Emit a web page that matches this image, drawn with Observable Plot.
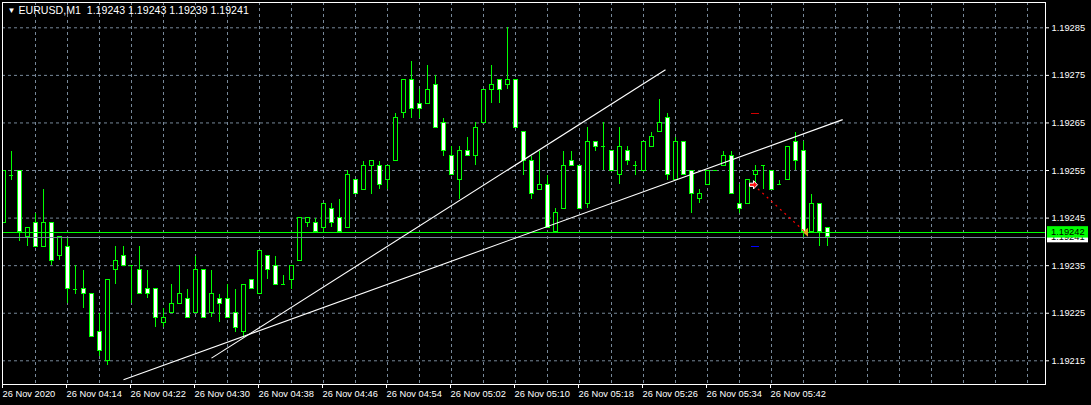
<!DOCTYPE html>
<html><head><meta charset="utf-8">
<script src="https://cdn.jsdelivr.net/npm/d3@7"></script>
<script src="https://cdn.jsdelivr.net/npm/@observablehq/plot@0.6"></script>
<style>
html,body{margin:0;padding:0;background:#000;overflow:hidden;}
svg text{white-space:pre;}
</style></head><body><div id="chart"></div>
<script>
// ---- data ----
const symbolTitle = "EURUSD,M1";
const lastOHLC = ["1.19243", "1.19243", "1.19239", "1.19241"];
const timeLabels = ["26 Nov 2020","26 Nov 04:14","26 Nov 04:22","26 Nov 04:30","26 Nov 04:38","26 Nov 04:46","26 Nov 04:54","26 Nov 05:02","26 Nov 05:10","26 Nov 05:18","26 Nov 05:26","26 Nov 05:34","26 Nov 05:42"];
const timeLabelBars = [0, 8, 16, 24, 32, 40, 48, 56, 64, 72, 80, 88, 96];
const gridBars = [4,8,12,16,20,24,28,32,36,40,44,48,52,56,60,64,68,72,76,80,84,88,92,96,100,104,108,112,116,120,124,128];
const priceTicks = [1.19215, 1.19225, 1.19235, 1.19245, 1.19255, 1.19265, 1.19275, 1.19285];

const openP = [
1.19244,1.19254,1.19255,1.19241,1.19244,1.19239,1.19244,1.19237,1.19239,1.19230,
1.19230,1.19229,1.19221,1.19215,1.19234,1.19237,1.19235,1.19234,1.19230,1.19230,
1.19223,1.19225,1.19227,1.19228,1.19225,1.19234,1.19225,1.19228,1.19228,1.19225,
1.19221,1.19232,1.19229,1.19237,1.19235,1.19231,1.19232,1.19236,1.19244,1.19244,
1.19243,1.19247,1.19245,1.19243,1.19253,1.19251,1.19256,1.19256,1.19253,1.19257,
1.19267,1.19274,1.19269,1.19269,1.19273,1.19265,1.19258,1.19253,1.19259,1.19258,
1.19265,1.19272,1.19274,1.19273,1.19274,1.19263,1.19257,1.19251,1.19252,1.19242,
1.19247,1.19257,1.19256,1.19248,1.19261,1.19260,1.19259,1.19254,1.19259,1.19256,
1.19255,1.19260,1.19263,1.19266,1.19253,1.19261,1.19255,1.19249,1.19252,1.19255,
1.19256,1.19258,1.19248,1.19248,1.19254,1.19256,1.19255,1.19252,1.19253,1.19261,
1.19259,1.19242,1.19248,1.19243];
const highP = [
1.19255,1.19259,1.19255,1.19243,1.19246,1.19251,1.19244,1.19241,1.19241,1.19235,
1.19234,1.19229,1.19225,1.19232,1.19239,1.19239,1.19235,1.19239,1.19234,1.19230,
1.19226,1.19231,1.19235,1.19230,1.19237,1.19234,1.19234,1.19229,1.19231,1.19230,
1.19231,1.19232,1.19238,1.19237,1.19237,1.19233,1.19235,1.19245,1.19245,1.19245,
1.19248,1.19248,1.19249,1.19255,1.19253,1.19257,1.19257,1.19257,1.19256,1.19267,
1.19274,1.19278,1.19272,1.19277,1.19275,1.19266,1.19260,1.19260,1.19262,1.19265,
1.19272,1.19277,1.19274,1.19285,1.19274,1.19263,1.19258,1.19259,1.19254,1.19247,
1.19259,1.19259,1.19256,1.19264,1.19261,1.19265,1.19259,1.19264,1.19260,1.19257,
1.19261,1.19263,1.19270,1.19267,1.19262,1.19261,1.19255,1.19251,1.19255,1.19255,
1.19259,1.19259,1.19252,1.19253,1.19256,1.19256,1.19255,1.19253,1.19260,1.19263,
1.19261,1.19250,1.19248,1.19243];
const lowP = [
1.19244,1.19253,1.19240,1.19239,1.19239,1.19239,1.19235,1.19236,1.19227,1.19229,
1.19226,1.19220,1.19216,1.19214,1.19231,1.19235,1.19227,1.19229,1.19228,1.19222,
1.19222,1.19225,1.19227,1.19224,1.19225,1.19224,1.19224,1.19223,1.19224,1.19221,
1.19220,1.19230,1.19229,1.19232,1.19231,1.19231,1.19230,1.19236,1.19243,1.19242,
1.19242,1.19243,1.19242,1.19243,1.19250,1.19251,1.19250,1.19251,1.19251,1.19257,
1.19266,1.19266,1.19266,1.19269,1.19264,1.19258,1.19254,1.19249,1.19258,1.19256,
1.19265,1.19269,1.19269,1.19272,1.19264,1.19254,1.19249,1.19251,1.19243,1.19242,
1.19247,1.19256,1.19247,1.19247,1.19259,1.19255,1.19255,1.19252,1.19256,1.19254,
1.19255,1.19260,1.19263,1.19253,1.19253,1.19254,1.19246,1.19248,1.19252,1.19255,
1.19256,1.19250,1.19246,1.19248,1.19252,1.19251,1.19251,1.19252,1.19253,1.19255,
1.19241,1.19242,1.19239,1.19239];
const closeP = [
1.19255,1.19254,1.19242,1.19243,1.19239,1.19244,1.19236,1.19241,1.19230,1.19230,
1.19229,1.19220,1.19217,1.19232,1.19236,1.19235,1.19235,1.19229,1.19229,1.19224,
1.19224,1.19227,1.19229,1.19224,1.19234,1.19224,1.19229,1.19227,1.19224,1.19222,
1.19231,1.19230,1.19238,1.19234,1.19231,1.19231,1.19235,1.19245,1.19245,1.19242,
1.19248,1.19244,1.19242,1.19254,1.19250,1.19256,1.19257,1.19252,1.19256,1.19266,
1.19274,1.19268,1.19268,1.19272,1.19264,1.19259,1.19254,1.19259,1.19258,1.19264,
1.19272,1.19273,1.19272,1.19274,1.19264,1.19257,1.19250,1.19252,1.19243,1.19246,
1.19256,1.19256,1.19247,1.19261,1.19260,1.19260,1.19255,1.19260,1.19257,1.19256,
1.19261,1.19262,1.19265,1.19254,1.19261,1.19254,1.19250,1.19250,1.19255,1.19255,
1.19258,1.19250,1.19247,1.19253,1.19255,1.19256,1.19251,1.19252,1.19260,1.19257,
1.19242,1.19248,1.19242,1.19241];

const askPrice = 1.19242;
const bidPrice = 1.19241;

// trend lines (bar index, price) anchors
const trendStartBars = [26.0, 15.0];
const trendStartPrices = [1.1921557, 1.1921100];
const trendEndBars = [82.75, 104.9];
const trendEndPrices = [1.1927620, 1.1926570];

// trade history
const tradeBars = [93.75, 100.25];
const tradePrices = [1.19252, 1.19242];
const levelBar = 94;
const levelPrices = [1.19267, 1.19239];
const levelColors = ["#d00000", "#0000ff"];

// ---- drawing ----
const idx = openP.map((_, i) => i);
const bodies = idx.filter(i => openP[i] !== closeP[i]);
const dojis = idx.filter(i => openP[i] === closeP[i]);
const trends = trendStartBars.map((_, i) => i);

const rightArrow = {draw(ctx) {
  ctx.moveTo(-4, -1.6); ctx.lineTo(0, -1.6); ctx.lineTo(0, -4.2); ctx.lineTo(4, 0);
  ctx.lineTo(0, 4.2); ctx.lineTo(0, 1.6); ctx.lineTo(-4, 1.6); ctx.closePath();
}};
const leftTri = {draw(ctx) {
  ctx.moveTo(2.5, -4.5); ctx.lineTo(-2.5, 0); ctx.lineTo(2.5, 4.5); ctx.closePath();
}};

const LIME = "#00ff00";
const GRID = "#778899";
const FONT = "'Liberation Sans', Arial, sans-serif";

const chart = Plot.plot({
  width: 1091, height: 405,
  marginLeft: 2, marginRight: 46, marginTop: 2, marginBottom: 21,
  x: {type: "linear", domain: [-0.125, 130.25]},
  y: {type: "linear", domain: [1.1921002, 1.1929032]},
  style: {background: "#000", color: "white", fontFamily: FONT, fontSize: "9.3px"},
  marks: [
    Plot.gridY(priceTicks, {stroke: GRID, strokeOpacity: 1, strokeDasharray: "3,3"}),
    Plot.gridX(gridBars, {stroke: GRID, strokeOpacity: 1, strokeDasharray: "3,3"}),
    Plot.ruleX(idx, {x: i => i, y1: i => lowP[i], y2: i => highP[i], stroke: LIME, clip: true, shapeRendering: "crispEdges"}),
    Plot.rect(bodies, {x1: i => i - 0.25, x2: i => i + 0.25, y1: i => openP[i], y2: i => closeP[i],
      fill: i => closeP[i] > openP[i] ? "#000000" : "#ffffff", stroke: LIME, clip: true, shapeRendering: "crispEdges"}),
    Plot.ruleY(dojis, {x1: i => i - 0.28, x2: i => i + 0.28, y: i => openP[i], stroke: LIME, clip: true, shapeRendering: "crispEdges"}),
    Plot.ruleY([askPrice], {y: d => d, stroke: LIME, shapeRendering: "crispEdges"}),
    Plot.ruleY([bidPrice], {y: d => d, stroke: GRID, shapeRendering: "crispEdges"}),
    Plot.link(trends, {x1: i => trendStartBars[i], y1: i => trendStartPrices[i], x2: i => trendEndBars[i], y2: i => trendEndPrices[i], stroke: "white", strokeWidth: 1.1}),
    Plot.ruleY(levelPrices, {y: d => d, x1: levelBar - 0.45, x2: levelBar + 0.45, stroke: (d, i) => levelColors[i], shapeRendering: "crispEdges"}),
    Plot.link([0], {x1: tradeBars[0], y1: tradePrices[0], x2: tradeBars[1], y2: tradePrices[1], stroke: "#ff0000", strokeDasharray: "2,4", strokeWidth: 1.2}),
    Plot.dot([0], {x: tradeBars[0], y: tradePrices[0], symbol: rightArrow, fill: "#ff1010", stroke: "white", strokeWidth: 1}),
    Plot.dot([1], {x: tradeBars[1], y: tradePrices[1], symbol: leftTri, fill: "#e0a020", stroke: "none"}),
    Plot.frame({stroke: "white"}),
    Plot.axisX(timeLabelBars, {anchor: "bottom", tickSize: 4, tickPadding: 2, textAnchor: "start", dx: -1,
      tickFormat: d => timeLabels[timeLabelBars.indexOf(d)], label: null, fill: "white", stroke: "white"}),
    Plot.axisY(priceTicks, {anchor: "right", tickSize: 3, tickPadding: 3, textAnchor: "start",
      tickFormat: d => d.toFixed(5), label: null, fill: "white", stroke: "white"}),
    Plot.text(["\u25BC"], {text: d => d, frameAnchor: "top-left", dx: 5, dy: 5, fontSize: 8, textAnchor: "start", lineAnchor: "top", fill: "white"}),
    Plot.text([symbolTitle + "\u00a0\u00a0" + lastOHLC.join(" ")], {text: d => d, frameAnchor: "top-left", dx: 16, dy: 3.5, textAnchor: "start", lineAnchor: "top", fill: "white", fontSize: 10.6})
  ]
});
document.getElementById("chart").appendChild(chart);

// price label boxes on the right axis (positioned with the plot's own y scale)
const ys = chart.scale("y");
const svg = d3.select(chart);
const boxX = 1091 - 46 + 2;
const g = svg.append("g").attr("font-family", FONT).attr("font-size", "9.3px").attr("text-anchor", "start");
[[bidPrice, "#ffffff"], [askPrice, LIME]].forEach(([p, c]) => {
  const yy = ys.apply(p);
  g.append("rect").attr("x", boxX).attr("y", yy - 5.7).attr("width", 41).attr("height", 11.4).attr("fill", c);
  g.append("text").attr("x", boxX + 4).attr("y", yy).attr("dy", "0.34em").attr("text-anchor", "start").attr("fill", "#000").text(p.toFixed(5));
});
</script>
</body></html>
